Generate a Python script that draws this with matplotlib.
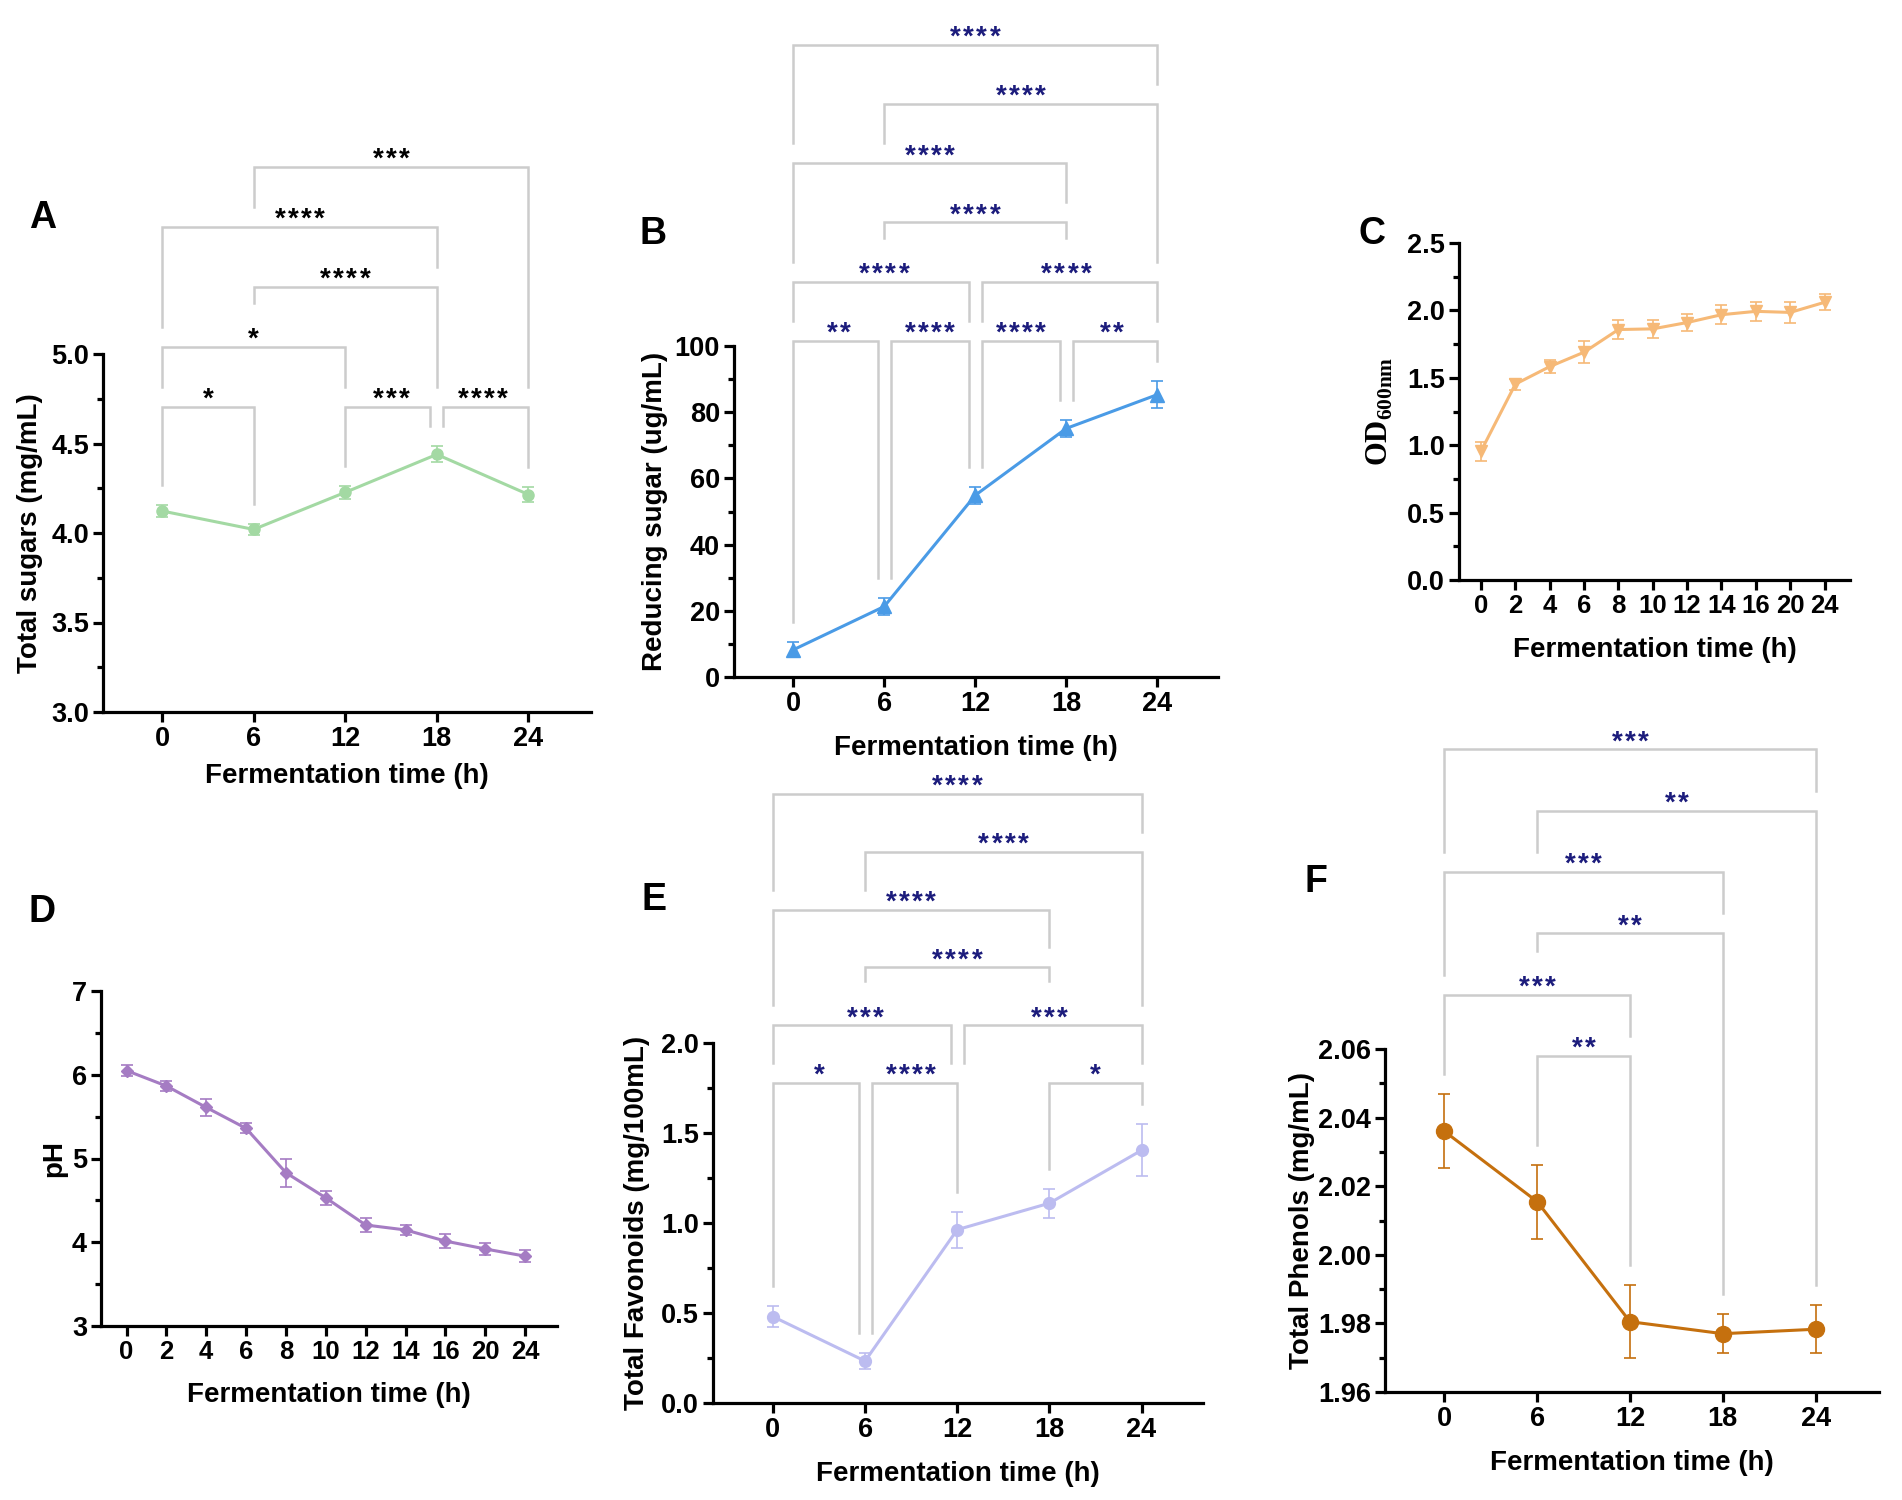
import matplotlib
matplotlib.use('Agg')
import matplotlib.pyplot as plt
from matplotlib.ticker import MultipleLocator, FormatStrFormatter

plt.rcParams['font.family'] = ['Liberation Sans', 'DejaVu Sans']
plt.rcParams['font.weight'] = 'bold'
plt.rcParams['axes.labelweight'] = 'bold'
plt.rcParams['mathtext.fontset'] = 'custom'
plt.rcParams['mathtext.bf'] = 'Liberation Serif:bold'
plt.rcParams['mathtext.rm'] = 'Liberation Serif'

# ---- data ----
time5 = [0, 6, 12, 18, 24]
time11 = [0, 2, 4, 6, 8, 10, 12, 14, 16, 20, 24]

sugar_mean = [4.123, 4.02, 4.227, 4.439, 4.215]
sugar_sd = [0.035, 0.033, 0.036, 0.045, 0.04]

reducing_mean = [8.2, 21.3, 54.9, 75.1, 85.3]
reducing_sd = [2.3, 2.6, 2.6, 2.6, 4.0]

od_mean = [0.956, 1.453, 1.583, 1.69, 1.858, 1.863, 1.91, 1.968, 1.993, 1.985, 2.06]
od_sd = [0.07, 0.04, 0.05, 0.08, 0.07, 0.065, 0.06, 0.07, 0.07, 0.08, 0.06]

ph_mean = [6.05, 5.866, 5.61, 5.36, 4.83, 4.53, 4.206, 4.147, 4.014, 3.92, 3.834]
ph_sd = [0.07, 0.055, 0.1, 0.06, 0.17, 0.085, 0.085, 0.055, 0.08, 0.07, 0.075]

flav_mean = [0.48, 0.233, 0.963, 1.11, 1.404]
flav_sd = [0.06, 0.045, 0.1, 0.08, 0.145]

phen_mean = [2.036, 2.0155, 1.9805, 1.977, 1.9783]
phen_sd = [0.0108, 0.0108, 0.0106, 0.0057, 0.007]

# comparisons: (group i, group j, label, bracket row)
comp_a = [(0, 1, '*', 0), (2, 3, '***', 0), (3, 4, '****', 0), (0, 2, '*', 1),
          (1, 3, '****', 2), (0, 3, '****', 3), (1, 4, '***', 4)]
comp_b = [(0, 1, '**', 0), (1, 2, '****', 0), (2, 3, '****', 0), (3, 4, '**', 0),
          (0, 2, '****', 1), (2, 4, '****', 1), (1, 3, '****', 2), (0, 3, '****', 3),
          (1, 4, '****', 4), (0, 4, '****', 5)]
comp_e = [(0, 1, '*', 0), (1, 2, '****', 0), (3, 4, '*', 0), (0, 2, '***', 1),
          (2, 4, '***', 1), (1, 3, '****', 2), (0, 3, '****', 3), (1, 4, '****', 4),
          (0, 4, '****', 5)]
comp_f = [(1, 2, '**', 0), (0, 2, '***', 1), (1, 3, '**', 2), (0, 3, '***', 3),
          (1, 4, '**', 4), (0, 4, '***', 5)]

W, H = 1902, 1500
fig = plt.figure(figsize=(W / 100, H / 100), dpi=100)

NAVY = '#1c1c7c'
GREY = '#cccccc'


def make_axes(box, xlim, ylim):
    l, t, r, b = box
    ax = fig.add_axes([l / W, 1 - b / H, (r - l) / W, (b - t) / H])
    ax.set_xlim(*xlim)
    ax.set_ylim(*ylim)
    for s in ['top', 'right']:
        ax.spines[s].set_visible(False)
    for s in ['left', 'bottom']:
        ax.spines[s].set_linewidth(2.3)
    ax.tick_params(which='major', length=7, width=2.3, labelsize=19.5, pad=3)
    ax.tick_params(which='minor', length=4.5, width=2.3)
    ax.tick_params(axis='x', which='minor', bottom=False)
    return ax


def labels(ax, box, xlabel, ylabel, ylab_x, xlab_y, letter, letter_xy, yfont=20):
    l, t, r, b = box
    ax.set_xlabel(xlabel, fontsize=20, va='center')
    ax.xaxis.set_label_coords(0.5, (b - xlab_y) / (b - t))
    ax.set_ylabel(ylabel, fontsize=yfont, va='center')
    ax.yaxis.set_label_coords((ylab_x - l) / (r - l), 0.5)
    fig.text(letter_xy[0] / W, 1 - letter_xy[1] / H, letter, fontsize=27,
             weight='bold', ha='center', va='center')


def stars(ax, xm, y, lab, color):
    # draw each asterisk on its own so they get the loose spacing of the original
    n = len(lab)
    pitch = 9.4
    for k in range(n):
        ax.annotate('*', (xm, y), xytext=((k - (n - 1) / 2) * pitch, 0),
                    textcoords='offset points', ha='center', va='baseline',
                    fontsize=20, weight='bold', color=color, annotation_clip=False)


def brackets(ax, box, ylim, x, mean, sd, comps, base, step_px, star_color):
    ppu = (box[3] - box[1]) / (ylim[1] - ylim[0])
    step = step_px / ppu
    gap = 20 / ppu
    text_h = 24 / ppu
    shift = 0.42
    for (i, j, lab, row) in comps:
        y = base + row * step
        x1, x2 = x[i], x[j]
        if any(c[1] == i and c[3] == row for c in comps):
            x1 += shift
        if any(c[0] == j and c[3] == row for c in comps):
            x2 -= shift

        def leg_end(k):
            obs = [mean[k] + sd[k]]
            for (i2, j2, lab2, row2) in comps:
                if row2 < row and i2 <= k <= j2:
                    y2 = base + row2 * step
                    obs.append(y2)
                    if 2 * k == i2 + j2:
                        obs.append(y2 + text_h)
            return max(obs) + gap

        ax.plot([x1, x1, x2, x2], [leg_end(i), y, y, leg_end(j)], color=GREY,
                lw=1.8, clip_on=False, solid_joinstyle='miter', zorder=1)
        stars(ax, (x[i] + x[j]) / 2, y, lab, star_color)


def series(ax, x, mean, sd, color, marker, ms):
    ax.errorbar(x, mean, yerr=sd, fmt='-', marker=marker, color=color, ms=ms,
                lw=2.2, elinewidth=1.2, capsize=4, capthick=1.2, zorder=3,
                clip_on=False)


# ---- A: total sugars ----
box_a = (103, 354, 591, 712)
ax = make_axes(box_a, (-3.87, 28.1), (3.0, 5.0))
series(ax, time5, sugar_mean, sugar_sd, '#a3d9a3', 'o', 8)
ax.set_xticks(time5)
ax.yaxis.set_major_locator(MultipleLocator(0.5))
ax.yaxis.set_minor_locator(MultipleLocator(0.25))
ax.yaxis.set_major_formatter(FormatStrFormatter('%.1f'))
brackets(ax, box_a, (3.0, 5.0), time5, sugar_mean, sugar_sd, comp_a, 4.706, 60, 'black')
labels(ax, box_a, 'Fermentation time (h)', 'Total sugars (mg/mL)', 30, 776, 'A', (42.5, 218))

# ---- B: reducing sugar ----
box_b = (734, 346, 1218, 677)
ax = make_axes(box_b, (-3.9, 28.0), (0, 100))
series(ax, time5, reducing_mean, reducing_sd, '#4a9be6', '^', 10)
ax.set_xticks(time5)
ax.yaxis.set_major_locator(MultipleLocator(20))
ax.yaxis.set_minor_locator(MultipleLocator(10))
brackets(ax, box_b, (0, 100), time5, reducing_mean, reducing_sd, comp_b, 101.5, 59.3, NAVY)
labels(ax, box_b, 'Fermentation time (h)', 'Reducing sugar (ug/mL)', 655, 748, 'B', (652.6, 234))

# ---- C: OD600 ----
box_c = (1459, 243, 1850, 580)
ax = make_axes(box_c, (-0.64, 10.74), (0, 2.5))
idx11 = list(range(len(time11)))
series(ax, idx11, od_mean, od_sd, '#f6b977', 'v', 8.5)
ax.set_xticks(idx11)
ax.set_xticklabels([str(t) for t in time11])
ax.yaxis.set_major_locator(MultipleLocator(0.5))
ax.yaxis.set_minor_locator(MultipleLocator(0.25))
ax.yaxis.set_major_formatter(FormatStrFormatter('%.1f'))
ax.tick_params(axis='x', labelsize=18.5)
labels(ax, box_c, 'Fermentation time (h)', r'$\mathbf{OD}_{\mathbf{600nm}}$', 1380, 650,
       'C', (1372, 234), yfont=22)

# ---- D: pH ----
box_d = (101, 991, 557, 1326)
ax = make_axes(box_d, (-0.64, 10.8), (3, 7))
series(ax, idx11, ph_mean, ph_sd, '#a57cc3', 'D', 6.5)
ax.set_xticks(idx11)
ax.set_xticklabels([str(t) for t in time11])
ax.yaxis.set_major_locator(MultipleLocator(1))
ax.yaxis.set_minor_locator(MultipleLocator(0.5))
ax.tick_params(axis='x', labelsize=18.5)
labels(ax, box_d, 'Fermentation time (h)', 'pH', 54, 1395, 'D', (42.5, 912))

# ---- E: total flavonoids ----
box_e = (713, 1043, 1203, 1403)
ax = make_axes(box_e, (-3.9, 28.0), (0, 2.0))
series(ax, time5, flav_mean, flav_sd, '#bcbcf0', 'o', 8.5)
ax.set_xticks(time5)
ax.yaxis.set_major_locator(MultipleLocator(0.5))
ax.yaxis.set_minor_locator(MultipleLocator(0.25))
ax.yaxis.set_major_formatter(FormatStrFormatter('%.1f'))
brackets(ax, box_e, (0, 2.0), time5, flav_mean, flav_sd, comp_e, 1.778, 57.8, NAVY)
labels(ax, box_e, 'Fermentation time (h)', 'Total Favonoids (mg/100mL)', 637, 1474, 'E', (654, 900))

# ---- F: total phenols ----
box_f = (1385, 1049, 1879, 1392)
ax = make_axes(box_f, (-3.84, 28.1), (1.96, 2.06))
series(ax, time5, phen_mean, phen_sd, '#c5700e', 'o', 11.5)
ax.set_xticks(time5)
ax.yaxis.set_major_locator(MultipleLocator(0.02))
ax.yaxis.set_minor_locator(MultipleLocator(0.01))
ax.yaxis.set_major_formatter(FormatStrFormatter('%.2f'))
brackets(ax, box_f, (1.96, 2.06), time5, phen_mean, phen_sd, comp_f, 2.058, 61.3, NAVY)
labels(ax, box_f, 'Fermentation time (h)', 'Total Phenols (mg/mL)', 1302, 1463, 'F', (1316, 882))

fig.savefig('out.png', dpi=100)
